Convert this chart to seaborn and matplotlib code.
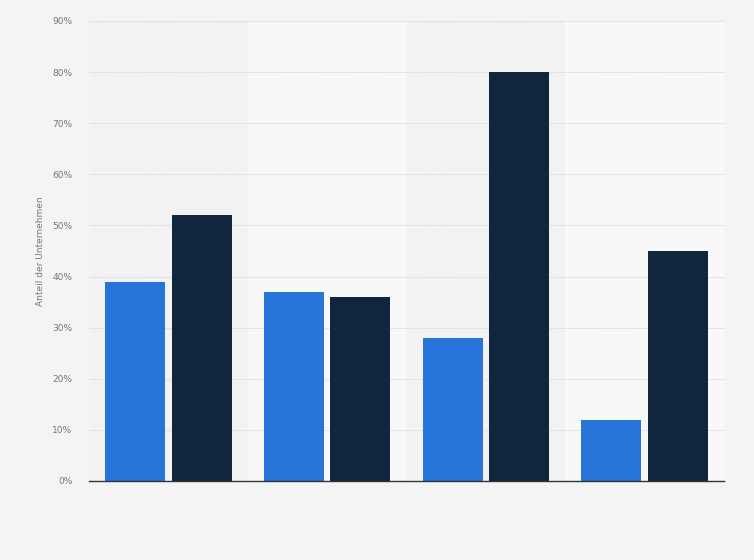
import matplotlib
matplotlib.use("Agg")
import matplotlib.pyplot as plt
import seaborn as sns
import pandas as pd
from matplotlib.ticker import FuncFormatter

categories = ["Kategorie 1", "Kategorie 2", "Kategorie 3", "Kategorie 4"]
series_names = ["Reihe A", "Reihe B"]
series_a = [39, 37, 28, 12]
series_b = [52, 36, 80, 45]
colors = ["#2775d9", "#0f263d"]

df = pd.DataFrame({
    "Kategorie": categories * 2,
    "Reihe": [series_names[0]] * 4 + [series_names[1]] * 4,
    "Wert": series_a + series_b,
})

sns.set_theme(style="white")
plt.rcParams["font.family"] = ["DejaVu Sans"]

fig = plt.figure(figsize=(7.54, 5.60), dpi=100, facecolor="#f4f4f4")
ax = fig.add_axes([89/754, 79/560, 635/754, 460/560])
ax.set_facecolor("#f2f2f2")

for i in range(len(categories)):
    if i % 2 == 1:
        ax.axvspan(i - 0.5, i + 0.5, color="#f8f8f8", zorder=0, lw=0)

sns.barplot(data=df, x="Kategorie", y="Wert", hue="Reihe", palette=colors,
            saturation=1, width=0.84, gap=0.1, ax=ax, legend=False, zorder=3,
            edgecolor="none", linewidth=0)

ax.set_xlim(-0.5, len(categories) - 0.5)
ax.set_ylim(0, 90)
ax.set_yticks(range(0, 91, 10))
ax.yaxis.set_major_formatter(FuncFormatter(lambda v, p: f"{int(v)}%"))
ax.grid(axis="y", color="#d2d2d2", linestyle=(0, (1, 1)), linewidth=0.7, zorder=1)
ax.grid(axis="x", visible=False)
ax.set_axisbelow(True)

ax.set_xticks(range(len(categories)))
ax.set_xticklabels([""] * len(categories))
ax.tick_params(axis="x", length=0)
ax.tick_params(axis="y", length=0, pad=12, labelsize=6.5, labelcolor="#777777")
ax.set_xlabel("")
ax.set_ylabel("Anteil der Unternehmen", fontsize=6.5, color="#777777", labelpad=5)

for side in ["top", "right", "left"]:
    ax.spines[side].set_visible(False)
ax.spines["bottom"].set_color("#333333")
ax.spines["bottom"].set_linewidth(1.0)
ax.spines["bottom"].set_zorder(5)

fig.savefig("out.png", dpi=100, facecolor=fig.get_facecolor())
